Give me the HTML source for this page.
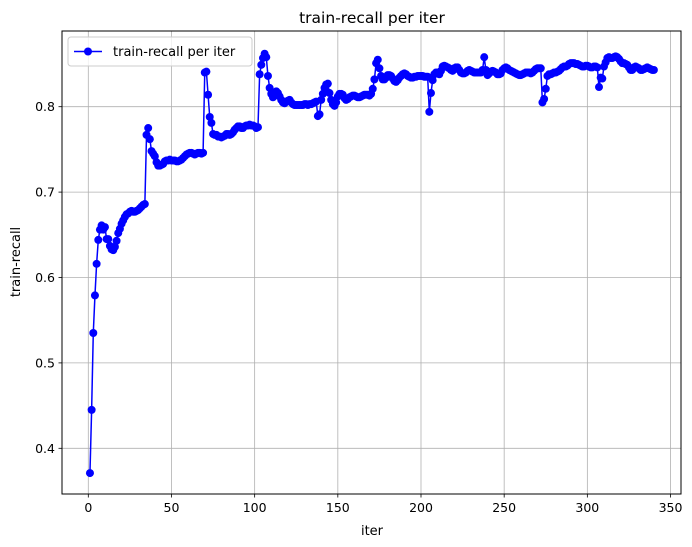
<!DOCTYPE html>
<html><head><meta charset="utf-8"><style>
html,body{margin:0;padding:0;background:#fff;}
svg{display:block;font-family:"DejaVu Sans","Liberation Sans",sans-serif;}
</style></head><body>
<svg id="chart" width="692" height="547">
<rect width="692" height="547" fill="#fff"/>
<text x="372" y="23" text-anchor="middle" font-size="15.5">train-recall per iter</text>
<g id="grid"></g>
<g id="series"></g>
<rect x="62" y="31" width="619" height="463" fill="none" stroke="#000" stroke-width="1"/>
<g id="ticks" font-size="12.5"></g>
<text x="372" y="535" text-anchor="middle" font-size="13">iter</text>
<text transform="translate(20,262) rotate(-90)" text-anchor="middle" font-size="13">train-recall</text>
<g>
<rect x="68" y="37" width="184" height="29" rx="3" fill="#fff" fill-opacity="0.8" stroke="#ccc"/>
<line x1="74" y1="51.5" x2="102" y2="51.5" stroke="#0000ff" stroke-width="1.5"/>
<circle cx="88" cy="51.5" r="4" fill="#0000ff"/>
<text x="113" y="56" font-size="13">train-recall per iter</text>
</g>
</svg>
<script>
const xTicks = [0,50,100,150,200,250,300,350];
const yTicks = [0.4,0.5,0.6,0.7,0.8];
const yTickLabels = ["0.4","0.5","0.6","0.7","0.8"];
const recall = [0.371,0.445,0.535,0.579,0.616,0.644,0.656,0.661,0.656,0.659,0.645,0.645,0.637,0.633,0.632,0.636,0.643,0.652,0.657,0.663,0.667,0.671,0.674,0.675,0.677,0.678,0.677,0.677,0.678,0.679,0.681,0.683,0.685,0.686,0.767,0.775,0.762,0.748,0.745,0.742,0.735,0.731,0.731,0.732,0.733,0.736,0.737,0.737,0.738,0.737,0.737,0.737,0.736,0.736,0.737,0.738,0.740,0.742,0.744,0.745,0.746,0.746,0.745,0.744,0.745,0.746,0.746,0.745,0.746,0.840,0.841,0.814,0.788,0.781,0.768,0.767,0.767,0.765,0.765,0.764,0.765,0.766,0.768,0.768,0.767,0.768,0.770,0.773,0.775,0.777,0.777,0.775,0.775,0.777,0.778,0.778,0.779,0.778,0.778,0.777,0.775,0.776,0.838,0.849,0.857,0.862,0.858,0.836,0.822,0.815,0.811,0.813,0.818,0.816,0.812,0.808,0.805,0.804,0.806,0.807,0.808,0.805,0.803,0.802,0.802,0.802,0.802,0.802,0.802,0.803,0.803,0.802,0.803,0.803,0.804,0.805,0.806,0.789,0.791,0.808,0.815,0.822,0.826,0.827,0.816,0.808,0.803,0.801,0.805,0.812,0.815,0.815,0.814,0.810,0.808,0.809,0.811,0.812,0.813,0.813,0.812,0.811,0.811,0.812,0.813,0.814,0.814,0.814,0.813,0.815,0.821,0.832,0.851,0.855,0.845,0.836,0.832,0.832,0.834,0.837,0.837,0.836,0.833,0.830,0.829,0.831,0.834,0.836,0.838,0.839,0.838,0.836,0.835,0.834,0.834,0.835,0.835,0.836,0.836,0.836,0.836,0.835,0.835,0.835,0.794,0.816,0.831,0.838,0.840,0.840,0.838,0.842,0.847,0.848,0.847,0.846,0.845,0.843,0.842,0.845,0.846,0.846,0.843,0.840,0.839,0.839,0.840,0.842,0.843,0.842,0.841,0.840,0.840,0.840,0.840,0.840,0.843,0.858,0.843,0.837,0.839,0.841,0.842,0.841,0.840,0.838,0.838,0.839,0.843,0.845,0.846,0.845,0.843,0.842,0.841,0.840,0.839,0.838,0.837,0.837,0.838,0.839,0.840,0.840,0.840,0.839,0.840,0.842,0.844,0.845,0.845,0.845,0.805,0.809,0.821,0.836,0.838,0.838,0.839,0.840,0.840,0.841,0.842,0.844,0.846,0.847,0.847,0.848,0.850,0.851,0.851,0.851,0.850,0.850,0.849,0.848,0.847,0.847,0.848,0.848,0.847,0.846,0.846,0.847,0.847,0.846,0.823,0.834,0.833,0.847,0.852,0.857,0.858,0.857,0.857,0.858,0.859,0.858,0.856,0.853,0.851,0.851,0.850,0.849,0.846,0.843,0.843,0.846,0.847,0.846,0.845,0.843,0.843,0.844,0.845,0.846,0.845,0.844,0.843,0.843];
const startIter = 1;

const NS = "http://www.w3.org/2000/svg";
function xs(v){ return 88.3 + v * 1.6635; }
function ys(v){ return 106.7 + (0.8 - v) * 854; }
const grid = document.getElementById('grid');
const ticks = document.getElementById('ticks');
function mk(tag, attrs, parent){ const e=document.createElementNS(NS,tag); for(const k in attrs) e.setAttribute(k,attrs[k]); parent.appendChild(e); return e; }

xTicks.forEach(t=>{
  const x = xs(t);
  const g = mk('line',{x1:x,x2:x,y1:31,y2:494,stroke:'#b0b0b0','stroke-width':0.8},grid);
  
  
  mk('line',{x1:x,x2:x,y1:494,y2:497.5,stroke:'#000','stroke-width':0.8},ticks);
  const tx = mk('text',{x:x,y:512,'text-anchor':'middle'},ticks);
  tx.textContent = String(t);
  
  
});
yTicks.forEach((t,i)=>{
  const y = ys(t);
  const g = mk('line',{x1:62,x2:681,y1:y,y2:y,stroke:'#b0b0b0','stroke-width':0.8},grid);
  
  
  mk('line',{x1:58.5,x2:62,y1:y,y2:y,stroke:'#000','stroke-width':0.8},ticks);
  const tx = mk('text',{x:55,y:y+4.5,'text-anchor':'end'},ticks);
  tx.textContent = yTickLabels[i];
  
  
});

const series = document.getElementById('series');
const pts = recall.map((v,i)=>xs(startIter+i).toFixed(2)+','+ys(v).toFixed(2)).join(' ');
const line = mk('polyline',{points:pts,fill:'none',stroke:'#0000ff','stroke-width':1.5,'stroke-linejoin':'round'},series);


recall.forEach((v,i)=>{
  const c = mk('circle',{cx:xs(startIter+i),cy:ys(v),r:4,fill:'#0000ff'},series);
  
  
});
</script>
</body></html>
